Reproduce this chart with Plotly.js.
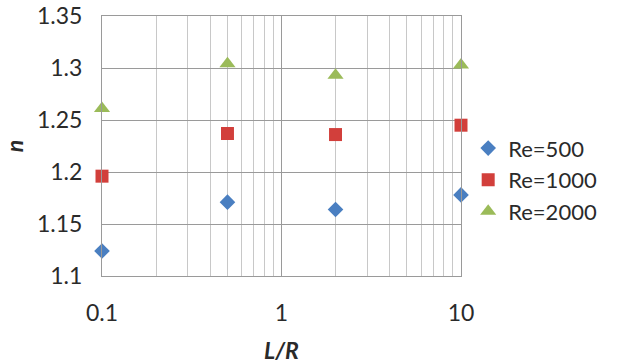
<!DOCTYPE html>
<html><head><meta charset="utf-8">
<script src="https://cdn.plot.ly/plotly-3.0.1.min.js"></script>
<style>html,body{margin:0;padding:0;background:#fff}</style>
</head><body><div id="chart" style="width:618px;height:364px"></div>
<script>
const xLR = [0.1, 0.5, 2, 10];
const re500 = [1.124, 1.171, 1.164, 1.178];
const re1000 = [1.196, 1.237, 1.236, 1.245];
const re2000 = [1.261, 1.304, 1.293, 1.303];
const seriesNames = ['Re=500', 'Re=1000', 'Re=2000'];
const yTicks = [1.1, 1.15, 1.2, 1.25, 1.3, 1.35];
const yTickText = ['1.1', '1.15', '1.2', '1.25', '1.3', '1.35'];
const xTicks = [0.1, 1, 10];
const xTickText = ['0.1', '1', '10'];

const traces = [
  {x: xLR, y: re500, name: seriesNames[0], mode: 'markers', type: 'scatter', cliponaxis: false,
   marker: {symbol: 'diamond', size: 12, color: '#4a7fc1'}},
  {x: xLR, y: re1000, name: seriesNames[1], mode: 'markers', type: 'scatter', cliponaxis: false,
   marker: {symbol: 'square', size: 13, color: '#d23f3b'}},
  {x: xLR, y: re2000, name: seriesNames[2], mode: 'markers', type: 'scatter', cliponaxis: false,
   marker: {symbol: 'triangle-up', size: 14, color: '#9bbb59'}}
];
const font = {family: 'Lato, "Liberation Sans", sans-serif', size: 23, color: '#2a2a2a'};
const layout = {
  width: 618, height: 364,
  margin: {l: 102, r: 157, t: 16, b: 88},
  paper_bgcolor: '#fff', plot_bgcolor: '#fff',
  font: font,
  showlegend: true,
  legend: {x: 1.02, xanchor: 'left', y: 0.37, yanchor: 'middle', bgcolor: 'rgba(0,0,0,0)',
    font: {family: font.family, size: 22, color: '#2a2a2a'}, tracegroupgap: 0, itemwidth: 30},
  xaxis: {type: 'log', range: [-1, 1], tickvals: xTicks, ticktext: xTickText,
    showgrid: true, gridcolor: '#9a9a9a', gridwidth: 1,
    minor: {showgrid: true, gridcolor: '#c8c8c8', gridwidth: 1, dtick: 'D1', ticks: ''},
    showline: true, linecolor: '#9a9a9a', mirror: true, zeroline: false,
    ticks: 'outside', ticklen: 16, tickcolor: 'rgba(0,0,0,0)',
    tickfont: {family: font.family, size: 23, color: '#2a2a2a'},
    title: {text: '<b><i>L/R</i></b>', font: {family: font.family, size: 23, color: '#2a2a2a'}, standoff: 18}},
  yaxis: {range: [1.1, 1.35], tickvals: yTicks, ticktext: yTickText,
    showgrid: true, gridcolor: '#9a9a9a', gridwidth: 1,
    showline: true, linecolor: '#9a9a9a', mirror: true, zeroline: false,
    ticks: 'outside', ticklen: 14, tickcolor: 'rgba(0,0,0,0)',
    tickfont: {family: font.family, size: 23, color: '#2a2a2a'},
    title: {text: '<b><i>n</i></b>', font: {family: font.family, size: 23, color: '#2a2a2a'}, standoff: 12}}
};
Plotly.newPlot('chart', traces, layout, {displayModeBar: false, staticPlot: true});
</script></body></html>
